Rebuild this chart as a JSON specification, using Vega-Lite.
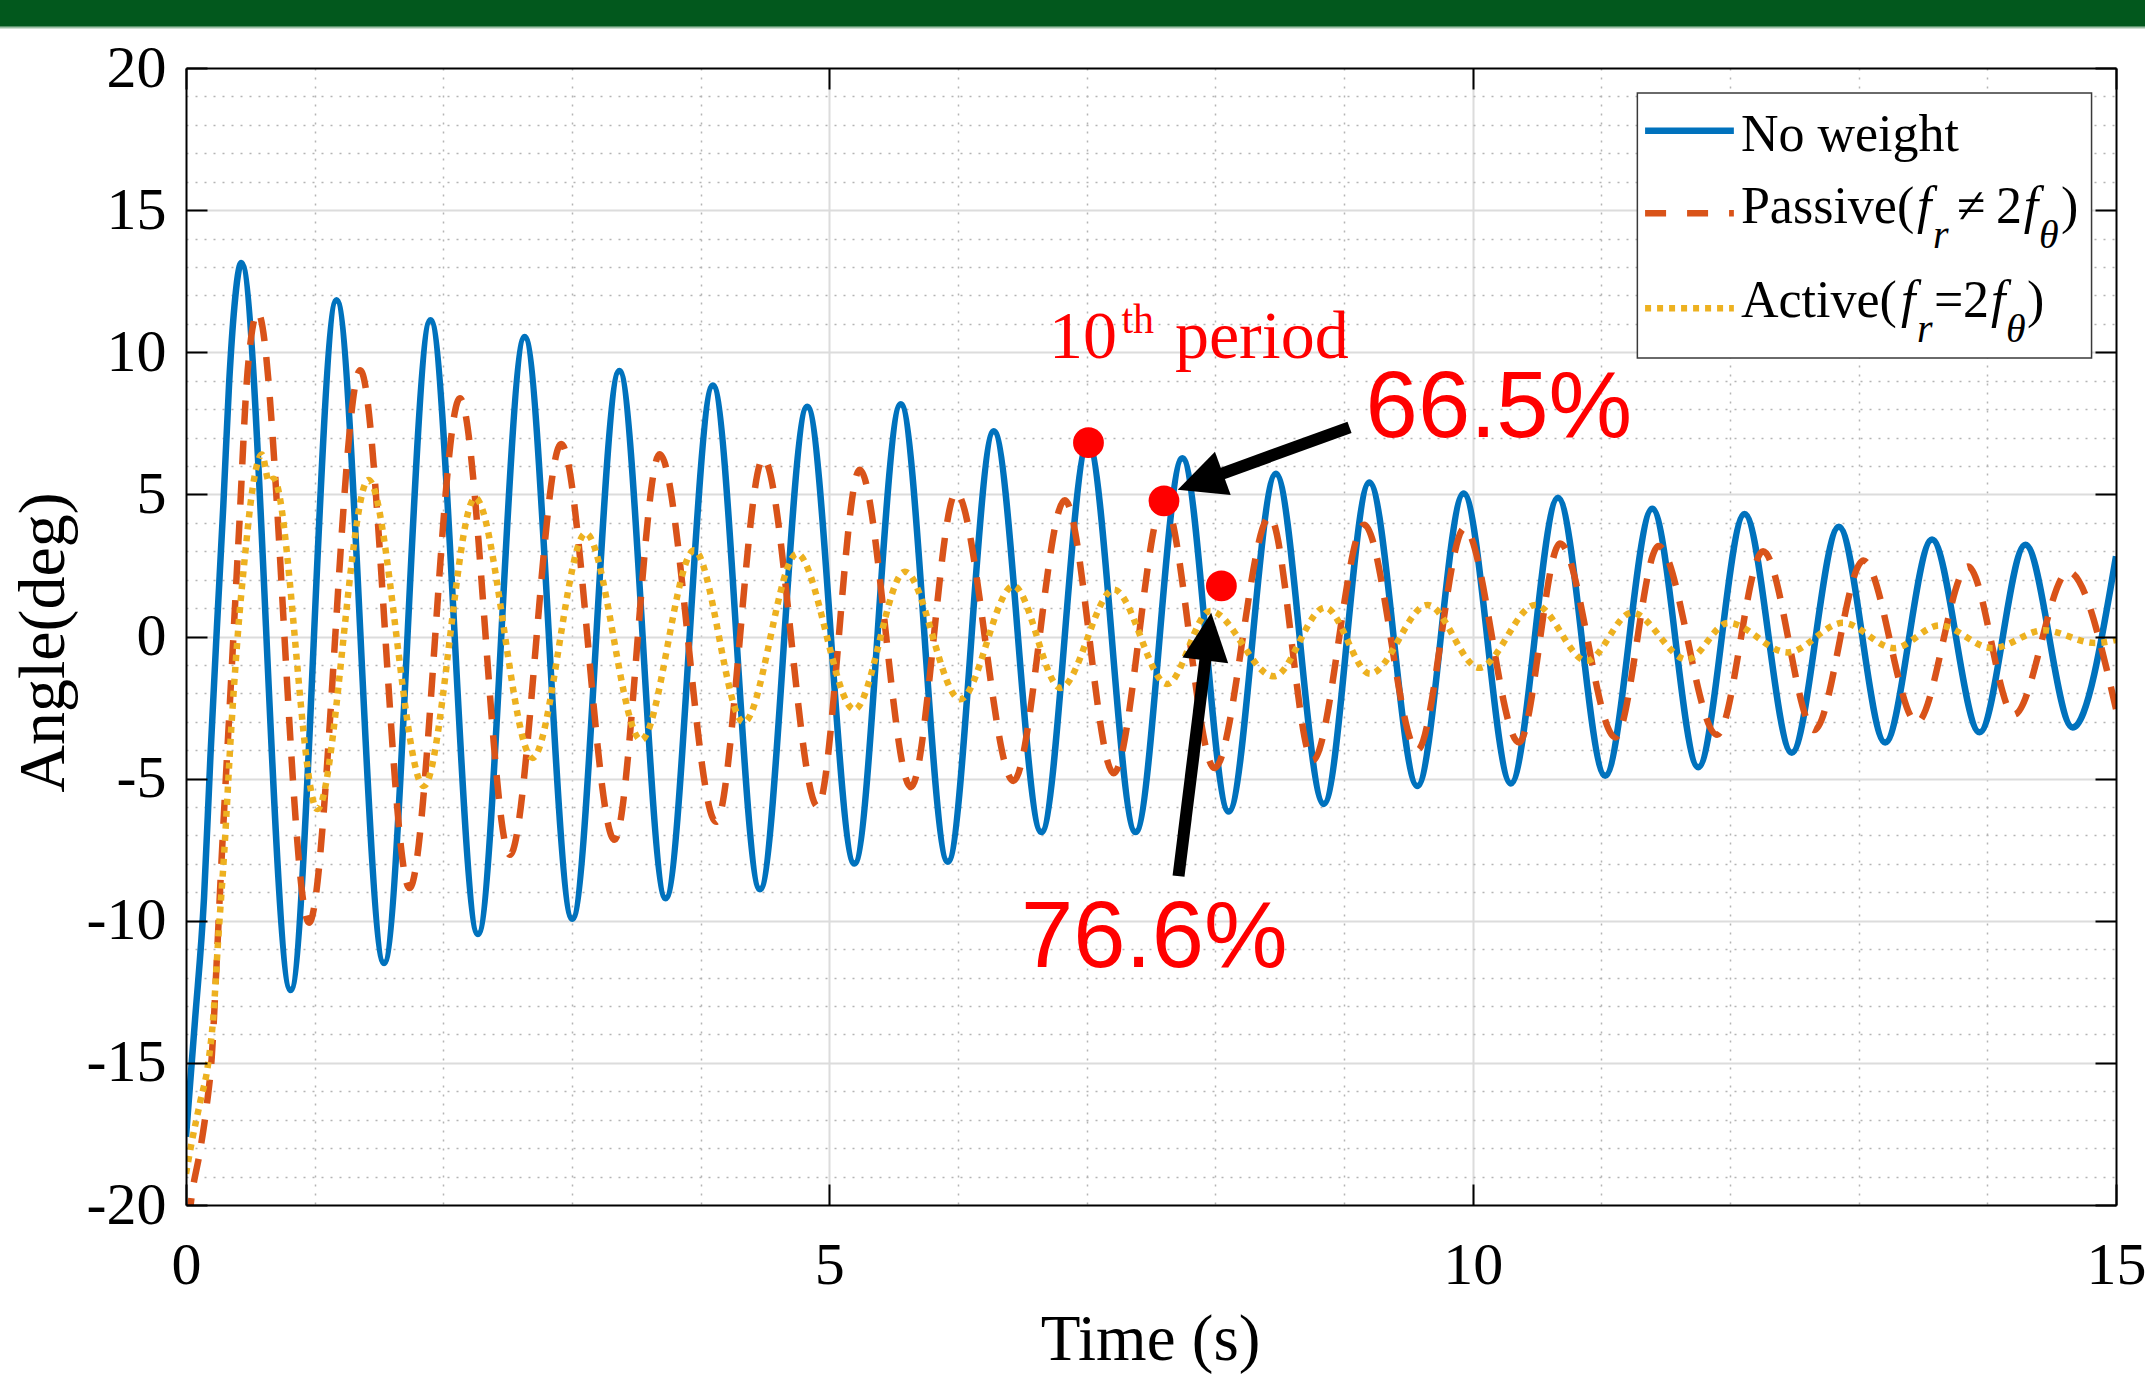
{
  "$schema": "https://vega.github.io/schema/vega-lite/v6.json",
  "width": 1930,
  "height": 1137,
  "autosize": {"type": "none"},
  "padding": {"left": 186, "top": 68, "right": 29, "bottom": 171},
  "background": "#ffffff",
  "config": {
    "view": {"stroke": null},
    "font": "Liberation Serif",
    "axis": {"labelFont": "Liberation Serif", "titleFont": "Liberation Serif", "labelColor": "#000000", "titleColor": "#000000", "domainColor": "#000000", "tickColor": "#000000", "titleFontWeight": "normal"}
  },
  "datasets": {
    "noweight": [
      {"t":0,"angle":-17.6},{"t":0.07,"angle":-13.5},{"t":0.14,"angle":-9.2},{"t":0.19,"angle":-4.2},{"t":0.24,"angle":0.3},{"t":0.29,"angle":4.6},{"t":0.335,"angle":8.9},{"t":0.376,"angle":11.6},{"t":0.43,"angle":13.14},
      {"t":0.813,"angle":-12.44},{"t":1.17,"angle":11.83},{"t":1.539,"angle":-11.49},{"t":1.9,"angle":11.13},{"t":2.269,"angle":-10.47},{"t":2.632,"angle":10.54},{"t":3.002,"angle":-9.93},{"t":3.368,"angle":9.34},{"t":3.728,"angle":-9.21},{"t":4.095,"angle":8.83},{"t":4.461,"angle":-8.89},{"t":4.828,"angle":8.08},{"t":5.195,"angle":-7.99},{"t":5.555,"angle":8.17},{"t":5.921,"angle":-7.92},{"t":6.278,"angle":7.22},{"t":6.648,"angle":-6.88},{"t":7.01,"angle":6.82},{"t":7.38,"angle":-6.88},{"t":7.744,"angle":6.27},{"t":8.104,"angle":-6.16},{"t":8.47,"angle":5.73},{"t":8.843,"angle":-5.89},{"t":9.197,"angle":5.42},{"t":9.57,"angle":-5.26},{"t":9.93,"angle":5.03},{"t":10.297,"angle":-5.17},{"t":10.663,"angle":4.88},{"t":11.03,"angle":-4.9},{"t":11.396,"angle":4.49},{"t":11.753,"angle":-4.6},{"t":12.113,"angle":4.31},{"t":12.48,"angle":-4.09},{"t":12.846,"angle":3.86},{"t":13.206,"angle":-3.73},{"t":13.57,"angle":3.41},{"t":13.94,"angle":-3.37},{"t":14.296,"angle":3.23},{"t":14.663,"angle":-3.2},{"t":15,"angle":2.82}
    ],
    "passive": [
      {"t":0.02,"angle":-20.6},{"t":0.044,"angle":-19.7},{"t":0.109,"angle":-18.1},{"t":0.161,"angle":-16.5},{"t":0.2,"angle":-14.8},{"t":0.238,"angle":-11.5},{"t":0.264,"angle":-9.0},{"t":0.351,"angle":-1.5},{"t":0.414,"angle":3.9},{"t":0.478,"angle":9.3},{"t":0.558,"angle":11.4},
      {"t":0.956,"angle":-10.07},{"t":1.354,"angle":9.37},{"t":1.737,"angle":-8.85},{"t":2.129,"angle":8.38},{"t":2.517,"angle":-7.68},{"t":2.916,"angle":6.77},{"t":3.33,"angle":-7.15},{"t":3.681,"angle":6.41},{"t":4.12,"angle":-6.52},{"t":4.487,"angle":6.27},{"t":4.91,"angle":-5.98},{"t":5.236,"angle":5.87},{"t":5.634,"angle":-5.3},{"t":5.985,"angle":5.06},{"t":6.431,"angle":-5.08},{"t":6.83,"angle":4.79},{"t":7.21,"angle":-4.81},{"t":7.6,"angle":4.77},{"t":7.993,"angle":-4.63},{"t":8.423,"angle":4.22},{"t":8.757,"angle":-4.36},{"t":9.156,"angle":3.93},{"t":9.57,"angle":-4.0},{"t":9.936,"angle":3.81},{"t":10.36,"angle":-3.73},{"t":10.679,"angle":3.27},{"t":11.109,"angle":-3.55},{"t":11.444,"angle":3.18},{"t":11.9,"angle":-3.46},{"t":12.257,"angle":3.0},{"t":12.655,"angle":-3.29},{"t":13.037,"angle":2.67},{"t":13.452,"angle":-3.02},{"t":13.85,"angle":2.46},{"t":14.207,"angle":-2.75},{"t":14.63,"angle":2.28},{"t":15,"angle":-2.55}
    ],
    "active": [
      {"t":0,"angle":-18.9},{"t":0.044,"angle":-17.8},{"t":0.109,"angle":-16.4},{"t":0.173,"angle":-15.0},{"t":0.212,"angle":-13.4},{"t":0.251,"angle":-10.6},{"t":0.297,"angle":-7.6},{"t":0.351,"angle":-3.3},{"t":0.398,"angle":-0.2},{"t":0.462,"angle":3.0},{"t":0.51,"angle":4.97},{"t":0.59,"angle":6.4},{"t":0.645,"angle":5.45},{"t":0.68,"angle":5.55},
      {"t":1.02,"angle":-6.07},{"t":1.418,"angle":5.51},{"t":1.848,"angle":-5.26},{"t":2.247,"angle":4.88},{"t":2.693,"angle":-4.27},{"t":3.107,"angle":3.63},{"t":3.537,"angle":-3.64},{"t":3.95,"angle":3.03},{"t":4.334,"angle":-3.02},{"t":4.748,"angle":2.91},{"t":5.195,"angle":-2.57},{"t":5.587,"angle":2.28},{"t":6.017,"angle":-2.21},{"t":6.431,"angle":1.78},{"t":6.797,"angle":-1.81},{"t":7.212,"angle":1.65},{"t":7.626,"angle":-1.67},{"t":7.96,"angle":0.9},{"t":8.455,"angle":-1.4},{"t":8.853,"angle":1.02},{"t":9.203,"angle":-1.31},{"t":9.65,"angle":1.11},{"t":10.05,"angle":-1.1},{"t":10.488,"angle":1.11},{"t":10.886,"angle":-0.86},{"t":11.237,"angle":0.84},{"t":11.667,"angle":-0.81},{"t":11.986,"angle":0.48},{"t":12.448,"angle":-0.56},{"t":12.878,"angle":0.48},{"t":13.276,"angle":-0.41},{"t":13.627,"angle":0.39},{"t":14.04,"angle":-0.41},{"t":14.44,"angle":0.22},{"t":14.838,"angle":-0.23},{"t":15,"angle":-0.12}
    ],
    "dots": [{"t":7.014,"angle":6.82},{"t":7.601,"angle":4.77},{"t":8.047,"angle":1.78}],
    "shafts": [{"t":9.043,"angle":7.36,"t2":7.883,"angle2":5.45},{"t":7.714,"angle":-8.43,"t2":7.945,"angle2":0.0}],
    "legendUpright": [
      {"label":"No weight","t":12.085,"angle":17.09},
      {"label":"Passive(","t":12.085,"angle":14.54},{"label":"≠","t":13.764,"angle":14.54},{"label":"2","t":14.067,"angle":14.54},{"label":")","t":14.572,"angle":14.54},
      {"label":"Active(","t":12.085,"angle":11.25},{"label":"=","t":13.585,"angle":11.25},{"label":"2","t":13.81,"angle":11.25},{"label":")","t":14.308,"angle":11.25}
    ],
    "legendItalic": [
      {"label":"f","t":13.453,"angle":14.54},{"label":"f","t":14.284,"angle":14.54},
      {"label":"f","t":13.329,"angle":11.25},{"label":"f","t":14.028,"angle":11.25}
    ],
    "legendSub": [
      {"label":"r","t":13.577,"angle":13.66},{"label":"θ","t":14.401,"angle":13.66},
      {"label":"r","t":13.453,"angle":10.37},{"label":"θ","t":14.145,"angle":10.37}
    ]
  },
  "resolve": {"axis": {"x": "independent", "y": "independent"}},
  "layer": [
    {
      "data": {"values": [{}]},
      "mark": {"type": "rect", "color": "#02581d", "clip": false},
      "encoding": {
        "x": {"datum": -2, "type": "quantitative", "scale": {"domain": [0, 15], "nice": false, "zero": false}, "axis": null},
        "x2": {"datum": 16},
        "y": {"datum": 22.6, "type": "quantitative", "scale": {"domain": [-20, 20], "nice": false, "zero": false}, "axis": null},
        "y2": {"datum": 21.45}
      }
    },
    {
      "data": {"values": [{}]},
      "mark": {"type": "rect", "color": "#9dbfa6", "clip": false},
      "encoding": {
        "x": {"datum": -2, "type": "quantitative", "scale": {"domain": [0, 15], "nice": false, "zero": false}, "axis": null},
        "x2": {"datum": 16},
        "y": {"datum": 21.45, "type": "quantitative", "scale": {"domain": [-20, 20], "nice": false, "zero": false}, "axis": null},
        "y2": {"datum": 21.39}
      }
    },
    {
      "data": {"values": [{}]},
      "mark": {"type": "point", "opacity": 0},
      "encoding": {
        "x": {"datum": 5, "type": "quantitative", "scale": {"domain": [0, 15], "nice": false, "zero": false},
              "axis": {"orient": "bottom", "values": [5, 10], "grid": true, "gridColor": "#dcdcdc", "gridWidth": 2, "domain": false, "ticks": false, "labels": false, "title": null, "zindex": 0}},
        "y": {"datum": 0, "type": "quantitative", "scale": {"domain": [-20, 20], "nice": false, "zero": false},
              "axis": {"orient": "left", "values": [-15, -10, -5, 0, 5, 10, 15], "grid": true, "gridColor": "#dcdcdc", "gridWidth": 2, "domain": false, "ticks": false, "labels": false, "title": null, "zindex": 0}}
      }
    },
    {
      "data": {"values": [{}]},
      "mark": {"type": "point", "opacity": 0},
      "encoding": {
        "x": {"datum": 5, "type": "quantitative", "scale": {"domain": [0, 15], "nice": false, "zero": false},
              "axis": {"orient": "bottom", "values": [1, 2, 3, 4, 6, 7, 8, 9, 11, 12, 13, 14], "grid": true, "gridColor": "#b4b4b4", "gridWidth": 1.5, "gridDash": [2, 7], "domain": false, "ticks": false, "labels": false, "title": null, "zindex": 0}},
        "y": {"datum": 0, "type": "quantitative", "scale": {"domain": [-20, 20], "nice": false, "zero": false},
              "axis": {"orient": "left", "values": [-19, -18, -17, -16, -14, -13, -12, -11, -9, -8, -7, -6, -4, -3, -2, -1, 1, 2, 3, 4, 6, 7, 8, 9, 11, 12, 13, 14, 16, 17, 18, 19], "grid": true, "gridColor": "#b4b4b4", "gridWidth": 1.5, "gridDash": [2, 7], "domain": false, "ticks": false, "labels": false, "title": null, "zindex": 0}}
      }
    },
    {
      "data": {"name": "noweight"},
      "mark": {"type": "line", "color": "#0072BD", "strokeWidth": 6.5, "interpolate": "monotone", "clip": true},
      "encoding": {
        "x": {"field": "t", "type": "quantitative", "scale": {"domain": [0, 15], "nice": false, "zero": false},
              "axis": {"orient": "bottom", "values": [0, 5, 10, 15], "grid": false, "domainWidth": 2, "tickWidth": 2, "tickSize": -21, "labelFontSize": 60, "labelPadding": 52, "labelFlush": false, "labelOverlap": false, "title": "Time (s)", "titleFontSize": 65, "titleX": 964, "titleY": 154, "titleAlign": "center", "titleBaseline": "alphabetic", "zindex": 1}},
        "y": {"field": "angle", "type": "quantitative", "scale": {"domain": [-20, 20], "nice": false, "zero": false},
              "axis": {"orient": "left", "values": [-20, -15, -10, -5, 0, 5, 10, 15, 20], "labelExpr": "'' + datum.value", "grid": false, "domainWidth": 2, "tickWidth": 2, "tickSize": -21, "labelFontSize": 60, "labelPadding": 41, "labelBaseline": "middle", "labelFlush": false, "labelOverlap": false, "title": "Angle(deg)", "titleFontSize": 66, "titleAngle": 270, "titleX": -123, "titleY": 574, "titleAlign": "center", "titleBaseline": "alphabetic", "zindex": 1}}
      }
    },
    {
      "data": {"name": "passive"},
      "mark": {"type": "line", "color": "#D95319", "strokeWidth": 6.5, "strokeDash": [24, 16], "interpolate": "monotone", "clip": true},
      "encoding": {
        "x": {"field": "t", "type": "quantitative", "scale": {"domain": [0, 15], "nice": false, "zero": false}, "axis": null},
        "y": {"field": "angle", "type": "quantitative", "scale": {"domain": [-20, 20], "nice": false, "zero": false}, "axis": null}
      }
    },
    {
      "data": {"name": "active"},
      "mark": {"type": "line", "color": "#EDB120", "strokeWidth": 6.5, "strokeDash": [6, 6], "interpolate": "monotone", "clip": true},
      "encoding": {
        "x": {"field": "t", "type": "quantitative", "scale": {"domain": [0, 15], "nice": false, "zero": false}, "axis": null},
        "y": {"field": "angle", "type": "quantitative", "scale": {"domain": [-20, 20], "nice": false, "zero": false}, "axis": null}
      }
    },
    {
      "data": {"values": [{}]},
      "mark": {"type": "rect", "fill": "#ffffff", "stroke": "#3a3a3a", "strokeWidth": 1.5},
      "encoding": {
        "x": {"datum": 11.28, "type": "quantitative", "scale": {"domain": [0, 15], "nice": false, "zero": false}, "axis": null},
        "x2": {"datum": 14.81},
        "y": {"datum": 19.12, "type": "quantitative", "scale": {"domain": [-20, 20], "nice": false, "zero": false}, "axis": null},
        "y2": {"datum": 9.8}
      }
    },
    {
      "data": {"values": [{}]},
      "mark": {"type": "rule", "color": "#0072BD", "strokeWidth": 6.5},
      "encoding": {
        "x": {"datum": 11.34, "type": "quantitative", "scale": {"domain": [0, 15], "nice": false, "zero": false}, "axis": null},
        "x2": {"datum": 12.03},
        "y": {"datum": 17.79, "type": "quantitative", "scale": {"domain": [-20, 20], "nice": false, "zero": false}, "axis": null}
      }
    },
    {
      "data": {"values": [{}]},
      "mark": {"type": "rule", "color": "#D95319", "strokeWidth": 6.5, "strokeDash": [21, 21]},
      "encoding": {
        "x": {"datum": 11.34, "type": "quantitative", "scale": {"domain": [0, 15], "nice": false, "zero": false}, "axis": null},
        "x2": {"datum": 12.03},
        "y": {"datum": 14.89, "type": "quantitative", "scale": {"domain": [-20, 20], "nice": false, "zero": false}, "axis": null}
      }
    },
    {
      "data": {"values": [{}]},
      "mark": {"type": "rule", "color": "#EDB120", "strokeWidth": 6.5, "strokeDash": [6, 6]},
      "encoding": {
        "x": {"datum": 11.34, "type": "quantitative", "scale": {"domain": [0, 15], "nice": false, "zero": false}, "axis": null},
        "x2": {"datum": 12.03},
        "y": {"datum": 11.55, "type": "quantitative", "scale": {"domain": [-20, 20], "nice": false, "zero": false}, "axis": null}
      }
    },
    {
      "data": {"name": "legendUpright"},
      "mark": {"type": "text", "align": "left", "baseline": "alphabetic", "font": "Liberation Serif", "fontSize": 52, "color": "#000000"},
      "encoding": {
        "x": {"field": "t", "type": "quantitative", "scale": {"domain": [0, 15], "nice": false, "zero": false}, "axis": null},
        "y": {"field": "angle", "type": "quantitative", "scale": {"domain": [-20, 20], "nice": false, "zero": false}, "axis": null},
        "text": {"field": "label"}
      }
    },
    {
      "data": {"name": "legendItalic"},
      "mark": {"type": "text", "align": "left", "baseline": "alphabetic", "font": "Liberation Serif", "fontStyle": "italic", "fontSize": 52, "color": "#000000"},
      "encoding": {
        "x": {"field": "t", "type": "quantitative", "scale": {"domain": [0, 15], "nice": false, "zero": false}, "axis": null},
        "y": {"field": "angle", "type": "quantitative", "scale": {"domain": [-20, 20], "nice": false, "zero": false}, "axis": null},
        "text": {"field": "label"}
      }
    },
    {
      "data": {"name": "legendSub"},
      "mark": {"type": "text", "align": "left", "baseline": "alphabetic", "font": "Liberation Serif", "fontStyle": "italic", "fontSize": 40, "color": "#000000"},
      "encoding": {
        "x": {"field": "t", "type": "quantitative", "scale": {"domain": [0, 15], "nice": false, "zero": false}, "axis": null},
        "y": {"field": "angle", "type": "quantitative", "scale": {"domain": [-20, 20], "nice": false, "zero": false}, "axis": null},
        "text": {"field": "label"}
      }
    },
    {
      "data": {"name": "dots"},
      "mark": {"type": "point", "filled": true, "opacity": 1, "color": "#ff0000", "size": 950},
      "encoding": {
        "x": {"field": "t", "type": "quantitative", "scale": {"domain": [0, 15], "nice": false, "zero": false},
              "axis": {"orient": "top", "values": [0, 5, 10, 15], "grid": false, "labels": false, "domainWidth": 2, "tickWidth": 2, "tickSize": -21, "title": null, "zindex": 1}},
        "y": {"field": "angle", "type": "quantitative", "scale": {"domain": [-20, 20], "nice": false, "zero": false},
              "axis": {"orient": "right", "values": [-20, -15, -10, -5, 0, 5, 10, 15, 20], "grid": false, "labels": false, "domainWidth": 2, "tickWidth": 2, "tickSize": -21, "title": null, "zindex": 1}}
      }
    },
    {
      "data": {"name": "shafts"},
      "mark": {"type": "rule", "color": "#000000", "strokeWidth": 12, "strokeCap": "butt"},
      "encoding": {
        "x": {"field": "t", "type": "quantitative", "scale": {"domain": [0, 15], "nice": false, "zero": false}, "axis": null},
        "x2": {"field": "t2"},
        "y": {"field": "angle", "type": "quantitative", "scale": {"domain": [-20, 20], "nice": false, "zero": false}, "axis": null},
        "y2": {"field": "angle2"}
      }
    },
    {
      "data": {"values": [{"t": 7.883, "angle": 5.45}]},
      "mark": {"type": "point", "shape": "M0,-1L0.96,1L-0.96,1Z", "filled": true, "opacity": 1, "color": "#000000", "size": 2304, "angle": 250},
      "encoding": {
        "x": {"field": "t", "type": "quantitative", "scale": {"domain": [0, 15], "nice": false, "zero": false}, "axis": null},
        "y": {"field": "angle", "type": "quantitative", "scale": {"domain": [-20, 20], "nice": false, "zero": false}, "axis": null}
      }
    },
    {
      "data": {"values": [{"t": 7.945, "angle": 0.0}]},
      "mark": {"type": "point", "shape": "M0,-1L0.96,1L-0.96,1Z", "filled": true, "opacity": 1, "color": "#000000", "size": 2304, "angle": 7},
      "encoding": {
        "x": {"field": "t", "type": "quantitative", "scale": {"domain": [0, 15], "nice": false, "zero": false}, "axis": null},
        "y": {"field": "angle", "type": "quantitative", "scale": {"domain": [-20, 20], "nice": false, "zero": false}, "axis": null}
      }
    },
    {
      "data": {"values": [{"label": "10", "t": 6.707, "angle": 9.805}, {"label": "period", "t": 7.686, "angle": 9.805}]},
      "mark": {"type": "text", "align": "left", "baseline": "alphabetic", "font": "Liberation Serif", "fontSize": 68, "color": "#ff0000"},
      "encoding": {
        "x": {"field": "t", "type": "quantitative", "scale": {"domain": [0, 15], "nice": false, "zero": false}, "axis": null},
        "y": {"field": "angle", "type": "quantitative", "scale": {"domain": [-20, 20], "nice": false, "zero": false}, "axis": null},
        "text": {"field": "label"}
      }
    },
    {
      "data": {"values": [{"label": "th", "t": 7.27, "angle": 10.68}]},
      "mark": {"type": "text", "align": "left", "baseline": "alphabetic", "font": "Liberation Serif", "fontSize": 42, "color": "#ff0000"},
      "encoding": {
        "x": {"field": "t", "type": "quantitative", "scale": {"domain": [0, 15], "nice": false, "zero": false}, "axis": null},
        "y": {"field": "angle", "type": "quantitative", "scale": {"domain": [-20, 20], "nice": false, "zero": false}, "axis": null},
        "text": {"field": "label"}
      }
    },
    {
      "data": {"values": [{"label": "66.5%", "t": 9.168, "angle": 7.015}, {"label": "76.6%", "t": 6.49, "angle": -11.64}]},
      "mark": {"type": "text", "align": "left", "baseline": "alphabetic", "font": "Liberation Sans", "fontSize": 94, "color": "#ff0000"},
      "encoding": {
        "x": {"field": "t", "type": "quantitative", "scale": {"domain": [0, 15], "nice": false, "zero": false}, "axis": null},
        "y": {"field": "angle", "type": "quantitative", "scale": {"domain": [-20, 20], "nice": false, "zero": false}, "axis": null},
        "text": {"field": "label"}
      }
    }
  ]
}
